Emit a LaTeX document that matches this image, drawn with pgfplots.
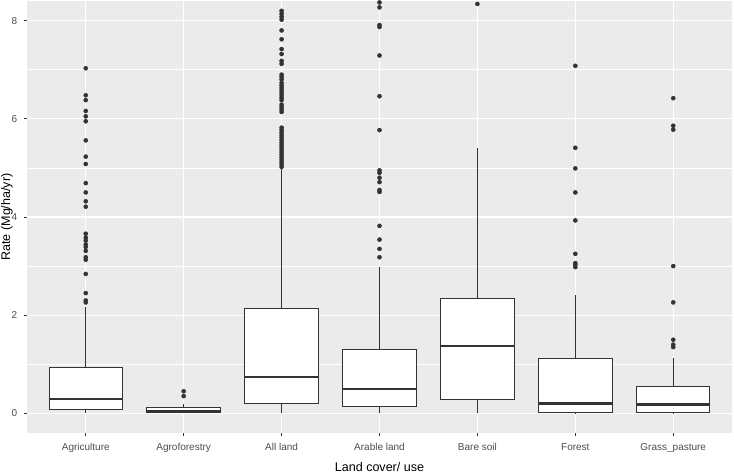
\documentclass[border=0pt]{standalone}
\usepackage{fontspec}
\setmainfont{Liberation Sans}
\usepackage{pgfplots}
\usepgfplotslibrary{statistics}
\pgfplotsset{compat=1.18}

\definecolor{panel}{HTML}{EBEBEB}
\definecolor{gray20}{HTML}{333333}
\definecolor{gray30}{HTML}{4D4D4D}

% one style for every box: white fill, dark outline, thick median, no caps
\pgfplotsset{
  ggbox/.style={
    draw=gray20, fill=white, line width=0.75pt, solid, mark=none,
    boxplot/draw direction=y,
    boxplot/box extend=0.75,
    boxplot/whisker extend=0,
    boxplot/every median/.style={line width=1.6pt},
  },
  ggout/.style={only marks, mark=*, mark size=1.5pt, draw=gray20, fill=gray20},
}

\begin{document}
\begin{tikzpicture}
\begin{axis}[
  name=ax,
  scale only axis,
  width=528.75pt, height=324pt,
  xmin=0.4, xmax=7.6,
  ymin=-0.4, ymax=8.4,
  axis background/.style={fill=panel},
  axis line style={draw=none},
  xtick={1,2,3,4,5,6,7},
  xticklabels={Agriculture,Agroforestry,All land,Arable land,Bare soil,Forest,Grass\_pasture},
  ytick={0,2,4,6,8},
  minor ytick={1,3,5,7},
  grid=both,
  major grid style={draw=white, line width=0.9pt},
  minor grid style={draw=white, line width=0.45pt},
  tick align=outside,
  xtick pos=bottom, ytick pos=left,
  major tick length=2.4pt, minor tick length=0pt,
  tick style={draw=gray20, line width=0.75pt},
  /pgf/number format/assume math mode=true,
  ticklabel style={font=\fontsize{7.5}{9}\selectfont, text=gray30},
  xticklabel style={anchor=base, inner sep=0pt, yshift=-10.5pt},
  yticklabel style={anchor=east, inner sep=0pt, xshift=-4.7pt},
  xlabel={Land cover/ use},
  ylabel={Rate (Mg/ha/yr)},
  every axis x label/.style={at={(axis description cs:0.5,0)}, anchor=base, yshift=-29pt, inner sep=0pt, font=\fontsize{9.4}{11}\selectfont},
  every axis y label/.style={at={([xshift=-15pt]axis description cs:0,0.5)}, rotate=90, anchor=center, inner sep=0pt, font=\fontsize{9.4}{11}\selectfont},
]

% Agriculture
\addplot[ggbox, boxplot prepared={draw position=1, lower whisker=0, lower quartile=0.075, median=0.30, upper quartile=0.94, upper whisker=2.16}] coordinates {};
\addplot[ggout] coordinates {
(1,7.03) (1,6.48) (1,6.38) (1,6.16) (1,6.05) (1,5.95) (1,5.56) (1,5.23) (1,5.08)
(1,4.69) (1,4.50) (1,4.32) (1,4.21) (1,3.66) (1,3.58) (1,3.52) (1,3.44) (1,3.39)
(1,3.31) (1,3.18) (1,3.13) (1,2.84) (1,2.45) (1,2.30) (1,2.26)};

% Agroforestry
\addplot[ggbox, boxplot prepared={draw position=2, lower whisker=0, lower quartile=0.02, median=0.05, upper quartile=0.11, upper whisker=0.19}] coordinates {};
\addplot[ggout] coordinates {(2,0.35) (2,0.45)};

% All land
\addplot[ggbox, boxplot prepared={draw position=3, lower whisker=0, lower quartile=0.20, median=0.735, upper quartile=2.14, upper whisker=4.99}] coordinates {};
\addplot[ggout] coordinates {
(3,5.02) (3,5.07) (3,5.12) (3,5.17) (3,5.22) (3,5.27) (3,5.32) (3,5.37) (3,5.42)
(3,5.47) (3,5.52) (3,5.57) (3,5.62) (3,5.67) (3,5.72) (3,5.77) (3,5.82)
(3,6.14) (3,6.19) (3,6.24) (3,6.29) (3,6.38) (3,6.43) (3,6.48) (3,6.53) (3,6.58)
(3,6.63) (3,6.68) (3,6.73) (3,6.80) (3,6.85) (3,6.90) (3,7.12) (3,7.18) (3,7.32)
(3,7.42) (3,7.62) (3,7.80) (3,8.02) (3,8.08) (3,8.14) (3,8.20)};

% Arable land
\addplot[ggbox, boxplot prepared={draw position=4, lower whisker=0, lower quartile=0.14, median=0.50, upper quartile=1.31, upper whisker=2.98}] coordinates {};
\addplot[ggout] coordinates {
(4,3.18) (4,3.35) (4,3.54) (4,3.82) (4,4.51) (4,4.55) (4,4.71) (4,4.80) (4,4.90)
(4,4.95) (4,5.77) (4,6.46) (4,7.29) (4,7.87) (4,7.91) (4,8.27) (4,8.37)};

% Bare soil
\addplot[ggbox, boxplot prepared={draw position=5, lower whisker=0, lower quartile=0.28, median=1.37, upper quartile=2.34, upper whisker=5.41}] coordinates {};
\addplot[ggout] coordinates {(5,8.34)};

% Forest
\addplot[ggbox, boxplot prepared={draw position=6, lower whisker=0, lower quartile=0.01, median=0.20, upper quartile=1.12, upper whisker=2.42}] coordinates {};
\addplot[ggout] coordinates {
(6,2.98) (6,3.03) (6,3.06) (6,3.25) (6,3.93) (6,4.50) (6,4.99) (6,5.41) (6,7.08)};

% Grass_pasture
\addplot[ggbox, boxplot prepared={draw position=7, lower whisker=0, lower quartile=0.01, median=0.18, upper quartile=0.545, upper whisker=1.12}] coordinates {};
\addplot[ggout] coordinates {
(7,1.35) (7,1.40) (7,1.50) (7,2.26) (7,3.00) (7,5.78) (7,5.86) (7,6.42)};

\end{axis}
\pgfresetboundingbox
\path[use as bounding box] ([shift={(-20.25pt,-31.5pt)}]ax.south west) rectangle ([shift={(1.5pt,0.75pt)}]ax.north east);
\end{tikzpicture}
\end{document}
